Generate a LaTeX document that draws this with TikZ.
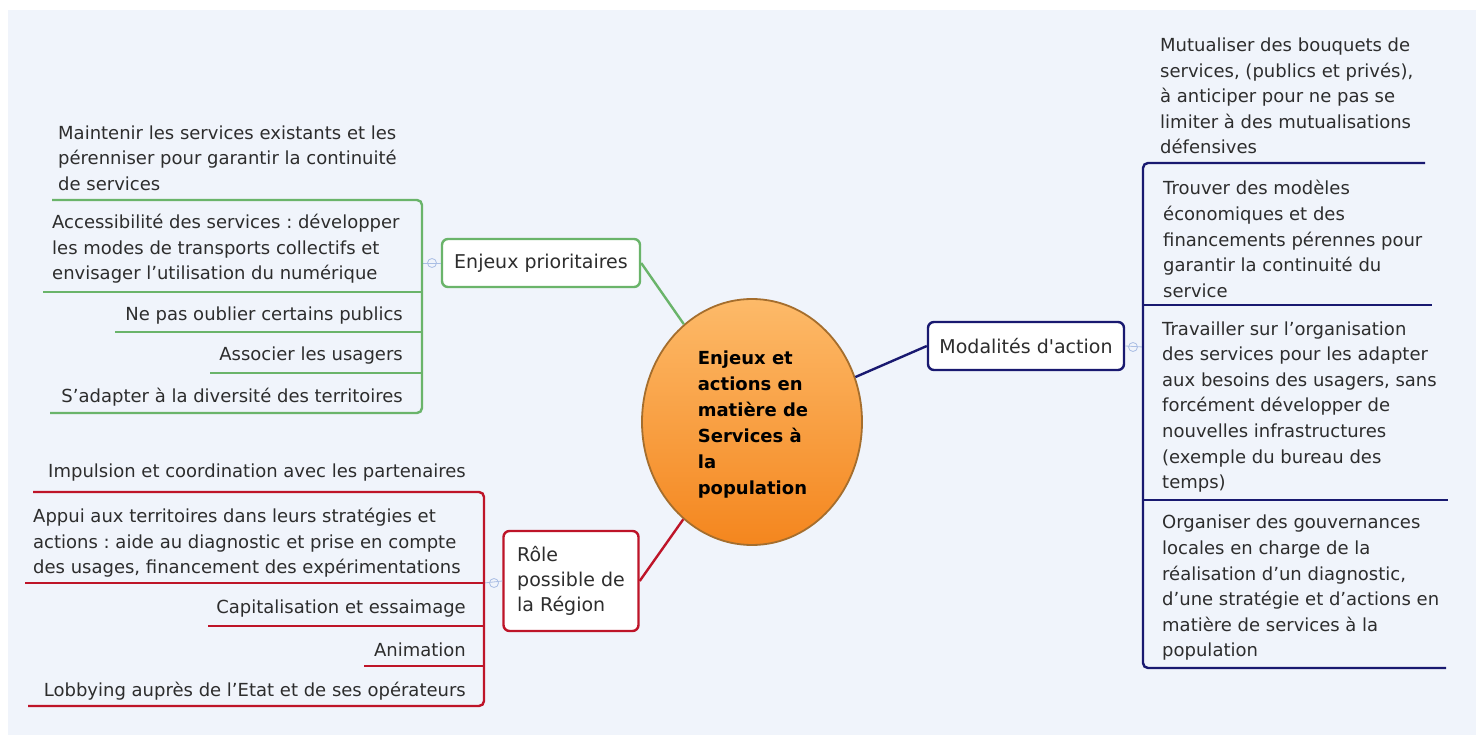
\documentclass[tikz,border=0pt]{standalone}
\usepackage{fontspec}
\setmainfont{DejaVu Sans}[Ligatures=TeXOff]
\usetikzlibrary{shapes.geometric}
\frenchspacing
\definecolor{fond}{RGB}{240,244,251}
\definecolor{vert}{RGB}{106,180,106}
\definecolor{rouge}{RGB}{190,20,40}
\definecolor{bleu}{RGB}{25,25,112}
\definecolor{texte}{RGB}{45,45,45}
\definecolor{orclair}{RGB}{253,186,105}
\definecolor{orfonce}{RGB}{244,134,30}
\definecolor{brun}{RGB}{165,110,45}
\definecolor{poigneecol}{RGB}{170,190,228}
\begin{document}
\begin{tikzpicture}[x=1pt,y=-1pt,
	item/.style={inner sep=0pt,text=texte,font=\fontsize{18}{25.6}\selectfont,align=left},
	branche/.style={draw,line width=2.4pt,rounded corners=6pt,fill=white,inner sep=0pt,text=texte,font=\fontsize{19}{25}\selectfont,align=left},
	poignee/.style={circle,draw=poigneecol,line width=0.8pt,minimum size=9pt,inner sep=0pt},
	lien/.style={draw=poigneecol,line width=0.8pt}]
	
	\useasboundingbox (0,0) rectangle (1476,735);
	\fill[white] (0,0) rectangle (1476,735);
	\fill[fond] (8,10) rectangle (1476,735);
	
	% centre
	\node[ellipse,draw=brun,line width=1.8pt,top color=orclair,bottom color=orfonce,
		minimum width=220pt,minimum height=246pt,inner sep=0pt] (c) at (752,422) {};
	\node[inner sep=0pt,align=left,font=\bfseries\fontsize{18}{26}\selectfont] (ct) at (753,425)
		{Enjeux et\\actions en\\matière de\\Services à\\la\\population};
	
	% branches
	\node[branche,draw=vert,minimum width=198pt,minimum height=48pt] (enj) at (541,263) {Enjeux prioritaires};
	\node[branche,draw=rouge,minimum width=135pt,minimum height=100pt] (role) at (571,581) {Rôle\\possible de\\la Région};
	\node[branche,draw=bleu,minimum width=196pt,minimum height=48pt] (moda) at (1026,346) {Modalités d'action};
	
	\draw[vert,line width=2.4pt] (enj.east) -- (c);
	\draw[rouge,line width=2.4pt] (role.east) -- (c);
	\draw[bleu,line width=2.4pt] (c) -- (moda.west);
	
	% poignees
	\node[poignee] (hg) at (432,263) {};
	\node[poignee] (hr) at (494,583) {};
	\node[poignee] (hb) at (1133,347) {};
	\coordinate (gv) at (422,263);
	\coordinate (rv) at (484,583);
	\coordinate (bv) at (1143,347);
	\draw[lien] (enj.west) -- (gv);
	\draw[lien] (role.west) -- (rv);
	\draw[lien] (moda.east) -- (bv);
	
	% enjeux prioritaires
	\node[item,anchor=west] (g1) at (58,158) {Maintenir les services existants et les\\pérenniser pour garantir la continuité\\de services};
	\node[item,anchor=west] (g2) at (52,249) {Accessibilité des services : développer\\les modes de transports collectifs et\\envisager l’utilisation du numérique};
	\node[item,anchor=east] (g3) at (403,316) {Ne pas oublier certains publics};
	\node[item,anchor=east] (g4) at (403,356) {Associer les usagers};
	\node[item,anchor=east] (g5) at (403,397) {S’adapter à la diversité des territoires};
	
	\draw[vert,line width=2.4pt,rounded corners=5pt] (52,200) -- (422,200) -- (422,413) -- (50,413);
	\draw[vert,line width=2.4pt] (43,292) -- (422,292);
	\draw[vert,line width=2.4pt] (115,332) -- (422,332);
	\draw[vert,line width=2.4pt] (210,373) -- (422,373);
	
	% role de la region
	\node[item,anchor=east] (r1) at (466,473) {Impulsion et coordination avec les partenaires};
	\node[item,anchor=west] (r2) at (33,543) {Appui aux territoires dans leurs stratégies et\\actions : aide au diagnostic et prise en compte\\des usages, financement des expérimentations};
	\node[item,anchor=east] (r3) at (466,609) {Capitalisation et essaimage};
	\node[item,anchor=east] (r4) at (466,650) {Animation};
	\node[item,anchor=east] (r5) at (466,691) {Lobbying auprès de l’Etat et de ses opérateurs};
	
	\draw[rouge,line width=2.4pt,rounded corners=5pt] (33,492) -- (484,492) -- (484,706) -- (28,706);
	\draw[rouge,line width=2.4pt] (25,583) -- (484,583);
	\draw[rouge,line width=2.4pt] (208,626) -- (484,626);
	\draw[rouge,line width=2.4pt] (364,666) -- (484,666);
	
	% modalites d'action
	\node[item,anchor=west] (b1) at (1160,96) {Mutualiser des bouquets de\\services, (publics et privés),\\à anticiper pour ne pas se\\limiter à des mutualisations\\défensives};
	\node[item,anchor=west] (b2) at (1163,239) {Trouver des modèles\\économiques et des\\financements pérennes pour\\garantir la continuité du\\service};
	\node[item,anchor=west] (b3) at (1162,407) {Travailler sur l’organisation\\des services pour les adapter\\aux besoins des usagers, sans\\forcément développer de\\nouvelles infrastructures\\(exemple du bureau des\\temps)};
	\node[item,anchor=west] (b4) at (1162,588) {Organiser des gouvernances\\locales en charge de la\\réalisation d’un diagnostic,\\d’une stratégie et d’actions en\\matière de services à la\\population};
	
	\draw[bleu,line width=2.4pt,rounded corners=5pt] (1425,163) -- (1143,163) -- (1143,668) -- (1446,668);
	\draw[bleu,line width=2.4pt] (1143,305) -- (1432,305);
	\draw[bleu,line width=2.4pt] (1143,500) -- (1448,500);
\end{tikzpicture}
\end{document}
